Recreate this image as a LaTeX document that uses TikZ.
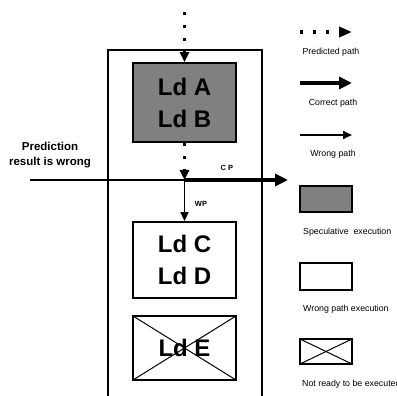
\documentclass[tikz,border=0pt]{standalone}
\usepackage{fontspec}
\setmainfont{Liberation Sans}
\usetikzlibrary{arrows.meta}
\definecolor{specgray}{RGB}{128,128,128}
\tikzset{
  predicted/.style={line width=3.4pt, dash pattern=on 3.4pt off 9.6pt, -{Triangle[length=10pt,width=9pt]}},
  correct/.style={line width=4pt, -{Triangle[length=13pt,width=12pt]}},
  wrong/.style={line width=1.6pt, -{Triangle[length=9pt,width=8pt]}},
  ldbox/.style={draw, line width=1.8pt, minimum width=103pt, inner sep=0pt, align=center,
    font=\bfseries\fontsize{24}{32}\selectfont},
  specbox/.style={ldbox, fill=specgray},
  crossbox/.style={ldbox, path picture={
    \draw[line width=1pt] (path picture bounding box.north west) -- (path picture bounding box.south east);
    \draw[line width=1pt] (path picture bounding box.south west) -- (path picture bounding box.north east);}},
  tag/.style={font=\bfseries\fontsize{7.5}{9}\selectfont, inner sep=0pt},
  legendtext/.style={font=\fontsize{8.8}{10}\selectfont, inner sep=0pt}
}
\begin{document}
\begin{tikzpicture}[x=1pt, y=-1pt]
  \useasboundingbox (0,0) rectangle (397,396);

  \draw[line width=1.8pt] (108,420) -- (108,50) -- (262,50) -- (262,420);

  \node[specbox, minimum height=79pt] (ab) at (184.5,102.5) {Ld A\\Ld B};
  \node[ldbox, minimum height=76pt] (cd) at (184.5,260) {Ld C\\Ld D};
  \node[crossbox, minimum height=64pt] (e) at (184.5,348) {Ld E};

  \coordinate (top) at (184.5,12);
  \coordinate (jn) at (184.5,180);
  \coordinate (src) at (30,180);
  \coordinate (cpend) at (288,180);

  \draw[predicted] (top) -- (ab.north);
  \draw[predicted] (ab.south) -- (jn);
  \draw[line width=1.6pt] (src) -- (jn);
  \draw[correct] (jn) -- (cpend);
  \draw[wrong] (jn) -- (cd.north);

  \node[tag] (cp) at (227,168) {C P};
  \node[tag] (wp) at (201,204) {WP};
  \node[font=\bfseries\fontsize{11.5}{15}\selectfont, align=center, inner sep=0pt] (msg) at (50,155)
    {Prediction\\result is wrong};

  \coordinate (lp1) at (300,32);  \coordinate (lp2) at (352,32);
  \coordinate (lc1) at (300,83);  \coordinate (lc2) at (352,83);
  \coordinate (lw1) at (300,135); \coordinate (lw2) at (352,135);
  \draw[predicted, -{Triangle[length=13pt,width=10pt]}] (lp1) -- (lp2);
  \draw[correct] (lc1) -- (lc2);
  \draw[wrong] (lw1) -- (lw2);
  \node[legendtext] (lpt) at (331,52) {Predicted path};
  \node[legendtext] (lct) at (333,103) {Correct path};
  \node[legendtext] (lwt) at (333,154) {Wrong path};

  \node[specbox, minimum width=52pt, minimum height=26pt] (lspec) at (326,199) {};
  \node[ldbox, minimum width=52pt, minimum height=27pt] (lwrong) at (326,276.5) {};
  \node[crossbox, minimum width=52pt, minimum height=25pt] (lnot) at (326,351.5) {};
  \node[legendtext, anchor=west] (lst) at (303,232) {Speculative\ \ execution};
  \node[legendtext, anchor=west] (lwpt) at (303,309) {Wrong path execution};
  \node[legendtext, anchor=west] (lnt) at (302,384) {Not ready to be executed};
\end{tikzpicture}
\end{document}
